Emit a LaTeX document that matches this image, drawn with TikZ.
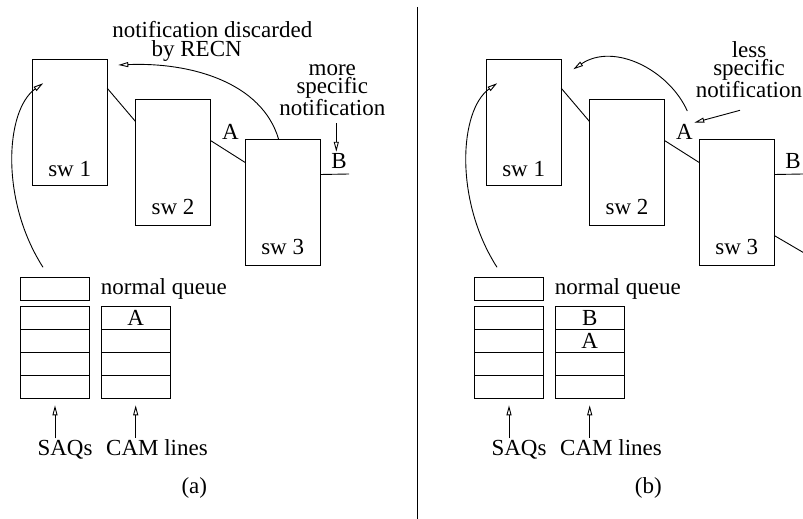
\documentclass[tikz,border=0pt]{standalone}
\usepackage{fontspec}
\setmainfont{Liberation Serif}
\usetikzlibrary{arrows.meta, positioning}

\tikzset{
  swbox/.style={draw, minimum width=75pt, minimum height=126pt, inner sep=0pt, outer sep=0pt},
  qcell/.style={draw, minimum width=69pt, minimum height=22.9pt, inner sep=0pt, outer sep=0pt},
  txt/.style={anchor=base, inner sep=1pt},
  tip/.style={-{Triangle[open, length=10pt, width=5pt]}},
}

\begin{document}
\begin{tikzpicture}[x=1pt, y=-1pt, line width=0.9pt, font=\fontsize{23}{18}\selectfont]
\useasboundingbox (0,0) rectangle (803,519);

% what both halves share
\foreach \p/\dx in {a/0, b/454}{
  \node[swbox] (sw1-\p) at (69.7+\dx,122.2) {};
  \node[swbox] (sw2-\p) at (173+\dx,162.5) {};
  \node[swbox] (sw3-\p) at (282.7+\dx,202.5) {};
  \node[txt] (t1-\p) at ([yshift=9pt]sw1-\p.south) {sw 1};
  \node[txt] (t2-\p) at ([yshift=11pt]sw2-\p.south) {sw 2};
  \node[txt] (t3-\p) at ([yshift=11pt]sw3-\p.south) {sw 3};
  \draw ([yshift=-29pt]sw1-\p.north east) -- ([yshift=-22pt]sw2-\p.north west);
  \draw ([yshift=-41pt]sw2-\p.north east) -- ([yshift=-23pt]sw3-\p.north west);
  \node[txt] (A-\p) at (230.5+\dx,139.3) {A};
  \node[txt] (B-\p) at (339+\dx,168.3) {B};
  \coordinate (portB-\p) at (349+\dx,174);
  \draw ([yshift=-35pt]sw3-\p.north east) -- (portB-\p);

  \node[qcell] (nq-\p) at (55+\dx,288.7) {};
  \node[right=8pt of nq-\p, inner sep=3pt] (nqt-\p) {normal queue};
  \foreach \r in {1,...,4}{
    \node[qcell] (saq\r-\p) at (55+\dx,295.25+22.9*\r) {};
    \node[qcell] (cam\r-\p) at (135.7+\dx,295.25+22.9*\r) {};
  }
  \node[txt] (saqs-\p) at (65+\dx,455) {SAQs};
  \node[txt] (caml-\p) at (157+\dx,455) {CAM lines};
  \draw[tip] (saqs-\p.north -| saq4-\p.south) -- ([yshift=-7pt]saq4-\p.south);
  \draw[tip] (caml-\p.north -| cam4-\p.south) -- ([yshift=-7pt]cam4-\p.south);
  \draw[tip] ([xshift=-12pt,yshift=10pt]nq-\p.north) .. controls +(-43,-67) and +(-38,27) .. ([xshift=11pt,yshift=-24pt]sw1-\p.north west);
  \node[txt] (cap-\p) at (194.3+\dx,493.3) {(\p)};
}

% (a)
\node[txt] (disc1) at (212.3,38) {notification discarded};
\node[txt] (disc2) at (196.7,57) {by RECN};
\coordinate (drop-a) at (118.3,65);
\draw[tip] ([xshift=-4pt]sw3-a.north) .. controls (262,82) and (190,62) .. (drop-a);
\node[align=center, anchor=south, inner sep=1pt] (more-a) at (332.3,117) {more\\specific\\notification};
\draw[tip] ([xshift=4pt,yshift=-6pt]more-a.south) -- ([xshift=4pt]more-a.south |- B-a.north);
\node (A1-a) at (cam1-a) {A};

% divider
\draw (417.3,7) -- (417.3,519);

% (b)
\coordinate (from-b) at (687.3,111);
\coordinate (drop-b) at (573.3,69.3);
\draw[tip] (from-b) .. controls (669,70) and (614,42) .. (drop-b);
\node[align=center, anchor=south, inner sep=1pt] (less-b) at (749,99.3) {less\\specific\\notification};
\draw[tip] ([xshift=-9pt,yshift=-11pt]less-b.south) -- (A-b.north east);
\coordinate (out-b) at (811,257);
\draw ([yshift=-96pt]sw3-b.north east) -- (out-b);
\node (B1-b) at (cam1-b) {B};
\node (A2-b) at (cam2-b) {A};
\end{tikzpicture}
\end{document}
